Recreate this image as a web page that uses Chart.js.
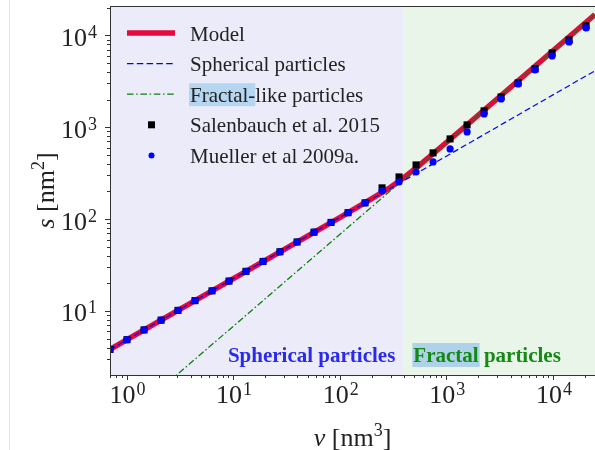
<!DOCTYPE html>
<html>
<head>
<meta charset="utf-8">
<script src="https://cdn.jsdelivr.net/npm/chart.js@4.4.1/dist/chart.umd.min.js"></script>
<style>
  html, body { margin: 0; padding: 0; background: #fff; }
  #wrap { position: relative; width: 595px; height: 450px; }
  #edge { position: absolute; left: 9px; top: 0; width: 1px; height: 450px; background: #e2e2e2; }
</style>
</head>
<body>
<div id="wrap">
  <div id="edge"></div>
  <canvas id="chart"></canvas>
</div>
<script>
// measured particles: volume v [nm^3] and surface s [nm^2]
const volumes = [0.70, 1.01, 1.46, 2.11, 3.04, 4.39, 6.34, 9.15, 13.2, 19.1, 27.5, 39.8, 57.4, 82.9, 119.7,
  172.8, 249.5, 360, 520, 751, 1084, 1565, 2259, 3262, 4710, 6801, 9817, 14174, 20464];
const salenbauchS = [3.81, 4.87, 6.22, 7.95, 10.15, 12.97, 16.57, 21.17, 27.0, 34.6, 44.1, 56.4, 72.1, 92.0, 117.6,
  150.3, 219, 288, 389, 526, 747, 1061, 1508, 2140, 3040, 4318, 6440, 8930, 12700];
const muellerS = [3.81, 4.87, 6.22, 7.95, 10.15, 12.97, 16.57, 21.17, 27.0, 34.6, 44.1, 56.4, 72.1, 92.0, 117.6,
  150.3, 203, 254, 326, 420, 581, 889, 1396, 2035, 2965, 4210, 5980, 8490, 12070];

// model curve
const modelV = [0.7, 100, 200, 300, 400, 550, 800, 1500, 24800];
const modelS = [3.81, 104, 167, 222, 283, 380, 548, 1020, 16900];

// limiting cases
const sphereV = [0.7, 24800];
const sphereS = [3.81, 4125];
const fractalV = [0.7, 24800];
const fractalS = [0.476, 16860];

// axes
const xRange = [0.70, 24800];
const yRange = [2.01, 20900];
const xMajor = [1, 10, 100, 1000, 10000];
const yMajor = [10, 100, 1000, 10000];
const regionSplit = 395;

const SERIF = "'Liberation Serif', 'DejaVu Serif', serif";
const RED = '#e5093d';
const BLUE = '#0000ff';
const GREEN = '#0a800a';

function zip(xs, ys) {
    return xs.map((v, i) => ({ x: v, y: ys[i] }));
}

// shaded regions and their labels
const regionPlugin = {
    id: 'regions',
    beforeDatasetsDraw(chart) {
        const { ctx, chartArea: a, scales: { x } } = chart;
        const split = x.getPixelForValue(regionSplit);
        ctx.save();
        ctx.fillStyle = '#ebebfa';
        ctx.fillRect(a.left, a.top, split - a.left, a.bottom - a.top);
        ctx.fillStyle = '#e8f5e8';
        ctx.fillRect(split, a.top, a.right - split, a.bottom - a.top);

        const base = a.bottom - 13;
        ctx.font = 'bold 21px ' + SERIF;
        ctx.textBaseline = 'alphabetic';
        ctx.textAlign = 'right';
        ctx.fillStyle = '#2a2aee';
        ctx.fillText('Spherical particles', split - 8, base);

        ctx.textAlign = 'left';
        const fx = split + 10;
        const w = ctx.measureText('Fractal').width;
        ctx.fillStyle = '#afd2ea';
        ctx.fillRect(fx - 1, base - 19, w + 2, 24);
        ctx.fillStyle = '#138a13';
        ctx.fillText('Fractal particles', fx, base);
        ctx.restore();
    }
};

function drawPow(ctx, exp, x, y, align) {
    ctx.font = '26px ' + SERIF;
    const w1 = ctx.measureText('10').width;
    ctx.font = '18px ' + SERIF;
    const w2 = ctx.measureText(String(exp)).width;
    const w = w1 + w2 + 1;
    const left = align === 'center' ? x - w / 2 : x - w;
    ctx.textAlign = 'left';
    ctx.font = '26px ' + SERIF;
    ctx.fillText('10', left, y);
    ctx.font = '18px ' + SERIF;
    ctx.fillText(String(exp), left + w1 + 1, y - 8);
}

// spines, ticks, tick labels, axis titles and legend
const framePlugin = {
    id: 'frame',
    afterDraw(chart) {
        const { ctx, chartArea: a, scales: { x, y } } = chart;
        ctx.save();
        ctx.strokeStyle = '#333';
        ctx.lineWidth = 1;
        ctx.beginPath();
        ctx.moveTo(a.left + 0.5, a.top + 0.5);
        ctx.lineTo(a.right, a.top + 0.5);
        ctx.moveTo(a.left + 0.5, a.top);
        ctx.lineTo(a.left + 0.5, a.bottom + 0.5);
        ctx.lineTo(a.right, a.bottom + 0.5);
        ctx.stroke();

        // ticks
        ctx.beginPath();
        for (let d = -1; d <= 4; d++) {
            for (let m = 1; m <= 9; m++) {
                const v = m * Math.pow(10, d);
                const len = m === 1 ? 5 : 3;
                if (v >= xRange[0] && v <= xRange[1]) {
                    const px = Math.round(x.getPixelForValue(v)) + 0.5;
                    ctx.moveTo(px, a.bottom);
                    ctx.lineTo(px, a.bottom + len);
                }
                if (v >= yRange[0] && v <= yRange[1]) {
                    const py = Math.round(y.getPixelForValue(v)) + 0.5;
                    ctx.moveTo(a.left, py);
                    ctx.lineTo(a.left - len, py);
                }
            }
        }
        ctx.stroke();

        ctx.fillStyle = '#222';
        ctx.textBaseline = 'alphabetic';
        xMajor.forEach(v => drawPow(ctx, Math.round(Math.log10(v)), x.getPixelForValue(v) + 1, a.bottom + 28, 'center'));
        yMajor.forEach(v => drawPow(ctx, Math.round(Math.log10(v)), a.left - 13, y.getPixelForValue(v) + 10.5, 'right'));

        // axis titles
        const title = (sym, sup) => {
            const parts = [
                { t: sym, f: 'italic 26px ' + SERIF, dy: 0 },
                { t: ' [nm', f: '26px ' + SERIF, dy: 0 },
                { t: sup, f: '18px ' + SERIF, dy: -10 },
                { t: ']', f: '26px ' + SERIF, dy: 0 }
            ];
            let w = 0;
            parts.forEach(p => { ctx.font = p.f; p.w = ctx.measureText(p.t).width; w += p.w; });
            let cx = -w / 2;
            ctx.textAlign = 'left';
            parts.forEach(p => { ctx.font = p.f; ctx.fillText(p.t, cx, p.dy); cx += p.w; });
        };
        ctx.save();
        ctx.translate((a.left + a.right) / 2, 446);
        title('v', '3');
        ctx.restore();
        ctx.save();
        ctx.translate(54, (a.top + a.bottom) / 2);
        ctx.rotate(-Math.PI / 2);
        title('s', '2');
        ctx.restore();

        // legend
        const lx = a.left + 17;
        const tx = a.left + 80;
        const rows = chart.data.datasets.slice().sort((p, q) => p.legendIndex - q.legendIndex);
        rows.forEach((ds, i) => {
            const ry = a.top + 27 + i * 30.6;
            ctx.save();
            if (ds.showLine) {
                ctx.strokeStyle = ds.borderColor;
                ctx.lineWidth = ds.borderWidth;
                ctx.setLineDash(ds.legendDash || []);
                ctx.beginPath();
                ctx.moveTo(lx, ry);
                ctx.lineTo(lx + 48, ry);
                ctx.stroke();
            } else {
                ctx.fillStyle = ds.backgroundColor;
                if (ds.pointStyle === 'rect') {
                    ctx.fillRect(lx + 21, ry - 3.5, 7, 7);
                } else {
                    ctx.beginPath();
                    ctx.arc(lx + 24.5, ry, 3, 0, Math.PI * 2);
                    ctx.fill();
                }
            }
            ctx.restore();
            ctx.font = '21px ' + SERIF;
            ctx.textAlign = 'left';
            if (ds.highlight) {
                const hw = ctx.measureText(ds.highlight).width;
                ctx.fillStyle = '#b4d6f0';
                ctx.fillRect(tx - 1, ry - 11, hw + 1, 23);
            }
            ctx.fillStyle = '#222';
            ctx.fillText(ds.label, tx, ry + 7.5);
        });
        ctx.restore();
    }
};

new Chart(document.getElementById('chart'), {
    type: 'scatter',
    data: {
        datasets: [
            {
                label: 'Mueller et al 2009a.',
                data: zip(volumes, muellerS),
                showLine: false,
                pointStyle: 'circle',
                pointRadius: 3.6,
                backgroundColor: BLUE,
                borderColor: BLUE,
                borderWidth: 0,
                order: 0,
                legendIndex: 4,
                clip: 0
            },
            {
                label: 'Salenbauch et al. 2015',
                data: zip(volumes, salenbauchS),
                showLine: false,
                pointStyle: 'rect',
                pointRadius: 5,
                backgroundColor: '#000',
                borderColor: '#000',
                borderWidth: 0,
                order: 1,
                legendIndex: 3,
                clip: 0
            },
            {
                label: 'Fractal-like particles',
                data: zip(fractalV, fractalS),
                showLine: true,
                borderColor: GREEN,
                borderWidth: 1.3,
                borderDash: [6.5, 2.5, 1.5, 2.5],
                legendDash: [6.5, 2.7, 1.5, 2.7],
                pointRadius: 0,
                order: 2,
                legendIndex: 2,
                highlight: 'Fractal-',
                clip: 0
            },
            {
                label: 'Spherical particles',
                data: zip(sphereV, sphereS),
                showLine: true,
                borderColor: BLUE,
                borderWidth: 1.2,
                borderDash: [6, 3.2],
                legendDash: [6.5, 3.3],
                pointRadius: 0,
                order: 3,
                legendIndex: 1,
                clip: 0
            },
            {
                label: 'Model',
                data: zip(modelV, modelS),
                showLine: true,
                borderColor: RED,
                borderWidth: 5.5,
                pointRadius: 0,
                order: 4,
                legendIndex: 0,
                clip: 0
            }
        ]
    },
    options: {
        responsive: true,
        maintainAspectRatio: false,
        devicePixelRatio: 1,
        animation: false,
        events: [],
        layout: { autoPadding: false, padding: { top: 6, right: 0, bottom: 0, left: 0 } },
        plugins: {
            legend: { display: false },
            tooltip: { enabled: false }
        },
        scales: {
            x: {
                type: 'logarithmic',
                min: xRange[0],
                max: xRange[1],
                ticks: { display: false },
                grid: { display: false },
                border: { display: false },
                afterFit(scale) { scale.height = 75; }
            },
            y: {
                type: 'logarithmic',
                min: yRange[0],
                max: yRange[1],
                ticks: { display: false },
                grid: { display: false },
                border: { display: false },
                afterFit(scale) { scale.width = 110; }
            }
        }
    },
    plugins: [regionPlugin, framePlugin]
});
</script>
</body>
</html>
